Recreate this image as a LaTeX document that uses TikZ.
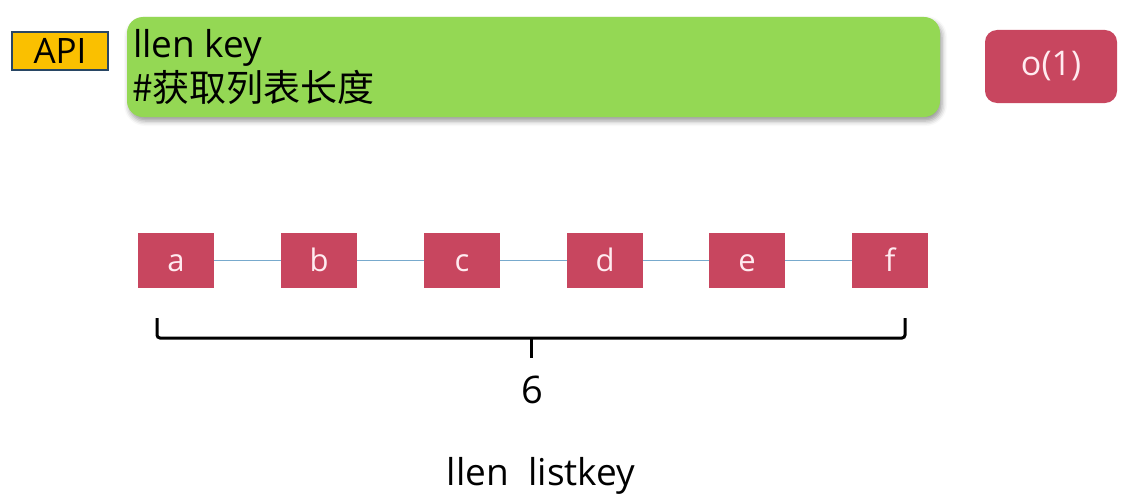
\documentclass[tikz,border=0pt]{standalone}
\usepackage{fontspec}
\setmainfont{Open Sans}
\newfontfamily\cjk{Noto Sans CJK SC}
\usetikzlibrary{shadows.blur}
\definecolor{apiyellow}{RGB}{250,192,0}
\definecolor{apiborder}{RGB}{40,70,100}
\definecolor{cmdgreen}{RGB}{148,216,84}
\definecolor{cellred}{RGB}{200,70,95}
\definecolor{linkblue}{RGB}{120,170,205}
\definecolor{cellfg}{RGB}{255,235,240}
\tikzset{
  x=1pt, y=-1pt,
  cell/.style={fill=cellred, draw=none, minimum width=76pt, minimum height=55pt, inner sep=0pt, text=cellfg, font=\fontsize{31}{33}\selectfont, text height=22pt, text depth=0pt},
  link/.style={draw=linkblue, line width=1.8pt},
  brace/.style={draw=black, line width=3pt, rounded corners=3pt},
}
\begin{document}
\begin{tikzpicture}
\useasboundingbox (0,0) rectangle (1132,503);
% API label
\node[fill=apiyellow, draw=apiborder, line width=2pt, minimum width=96pt, minimum height=38pt, inner sep=0pt, font=\fontsize{35}{36}\selectfont] (api) at (60,51) {API};
% command box
\node[fill=cmdgreen, rounded corners=16pt, minimum width=813pt, minimum height=100pt, inner sep=0pt, blur shadow={shadow xshift=2pt, shadow yshift=-4pt, shadow blur radius=5pt, shadow opacity=40}] (cmd) at (533.5,67) {};
\node[anchor=base west, inner sep=0pt, font=\fontsize{37}{38}\selectfont] (cmdtext) at (133,58) {llen key};
\node[anchor=base west, inner sep=0pt, font=\fontsize{37}{38}\selectfont\cjk] (cmdnote) at (132,101) {\#获取列表长度};
% complexity
\node[fill=cellred, rounded corners=12pt, minimum width=132pt, minimum height=73pt, inner sep=0pt, text=cellfg, font=\fontsize{34}{36}\selectfont] (cx) at (1051,66.5) {o(1)};
% cells
\node[cell] (a) at (176,260.5) {a};
\node[cell] (b) at (319,260.5) {b};
\node[cell] (c) at (462,260.5) {c};
\node[cell] (d) at (605,260.5) {d};
\node[cell] (e) at (747,260.5) {e};
\node[cell] (f) at (890,260.5) {f};
\draw[link] (a) -- (b);
\draw[link] (b) -- (c);
\draw[link] (c) -- (d);
\draw[link] (d) -- (e);
\draw[link] (e) -- (f);
% brace
\coordinate (bl) at (157,318);
\coordinate (br) at (905,318);
\coordinate (bm) at (531,358);
\draw[brace] (bl) -- (157,338) -- (905,338) -- (br);
\draw[draw=black, line width=3pt] (531,338) -- (bm);
\node[font=\fontsize{38}{40}\selectfont] (six) at (532,390) {6};
\node[font=\fontsize{37}{38}\selectfont] (cmdline) at (541,476) {llen\ \ listkey};
\end{tikzpicture}
\end{document}
